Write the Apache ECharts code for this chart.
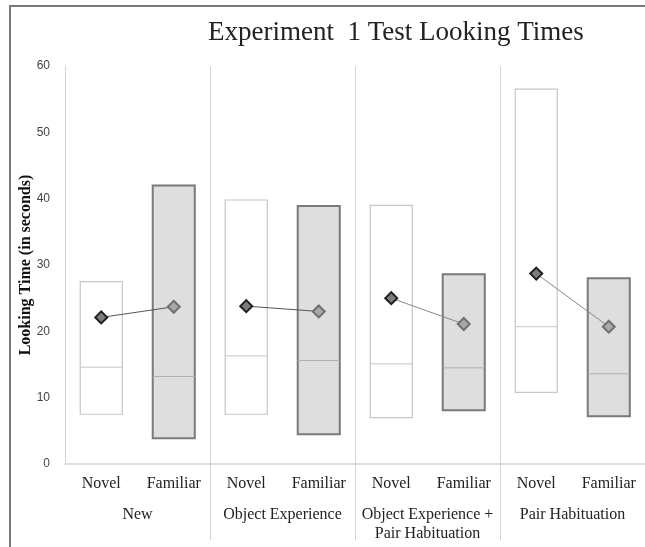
<!DOCTYPE html>
<html>
<head>
<meta charset="utf-8">
<script src="https://cdn.jsdelivr.net/npm/echarts@6/dist/echarts.min.js"></script>
<style>
  html, body { margin: 0; padding: 0; background: #fff; }
  #chart { width: 645px; height: 547px; }
</style>
</head>
<body>
<div id="chart"></div>
<script>
// 데이터
const categories = ["Novel", "Familiar", "Novel", "Familiar", "Novel", "Familiar", "Novel", "Familiar"];
const groups = ["New", "Object Experience", "Object Experience +\nPair Habituation", "Pair Habituation"];
const lows = [7.5, 3.9, 7.5, 4.5, 7.0, 8.1, 10.8, 7.2];
const medians = [14.6, 13.2, 16.3, 15.6, 15.1, 14.5, 20.7, 13.6];
const highs = [27.5, 42.0, 39.8, 38.9, 39.0, 28.6, 56.5, 28.0];
const means = [22.1, 23.7, 23.8, 23.0, 25.0, 21.1, 28.7, 20.7];
const lineColors = ["#555", "#555", "#888", "#888"];

const myChart = echarts.init(document.getElementById("chart"));

const serif = "Liberation Serif";
const gridLine = "#d4d4d4";

// 박스 (min ~ max, median)
const boxSeries = {
  type: "custom",
  xAxisIndex: 0,
  z: 2,
  data: categories.map((c, i) => [i, lows[i], medians[i], highs[i]]),
  encode: { x: 0, y: [1, 2, 3] },
  renderItem: function (params, api) {
    const idx = api.value(0);
    const top = api.coord([idx, api.value(3)]);
    const bot = api.coord([idx, api.value(1)]);
    const med = api.coord([idx, api.value(2)]);
    const w = api.size([1, 0])[0] * 0.58;
    const fam = idx % 2 === 1;
    return {
      type: "group",
      children: [
        {
          type: "rect",
          shape: { x: top[0] - w / 2, y: top[1], width: w, height: bot[1] - top[1] },
          style: { fill: fam ? "#dedede" : "#fff", stroke: fam ? "#7a7a7a" : "#c6c6c6", lineWidth: fam ? 2 : 1.2 },
        },
        {
          type: "line",
          shape: { x1: top[0] - w / 2, y1: med[1], x2: top[0] + w / 2, y2: med[1] },
          style: { stroke: fam ? "#b0b0b0" : "#c6c6c6", lineWidth: 1 },
        },
      ],
    };
  },
};

// 평균 (다이아몬드 + 연결선)
const meanSeries = groups.map((g, gi) => ({
  type: "line",
  xAxisIndex: 0,
  z: 5,
  symbol: "diamond",
  symbolSize: 12,
  lineStyle: { color: lineColors[gi], width: 1 },
  data: means.map((v, i) => {
    if (Math.floor(i / 2) !== gi) return "-";
    const fam = i % 2 === 1;
    return {
      value: v,
      itemStyle: {
        color: fam ? "#a8a8a8" : "#7c7c7c",
        borderColor: fam ? "#707070" : "#1e1e1e",
        borderWidth: 2,
      },
    };
  }),
}));

const option = {
  animation: false,
  title: {
    text: "Experiment  1 Test Looking Times",
    left: 203,
    top: 14,
    textStyle: { fontFamily: serif, fontSize: 27, fontWeight: "normal", color: "#222" },
  },
  graphic: [
    {
      type: "rect",
      shape: { x: 10, y: 6, width: 700, height: 600 },
      style: { fill: "none", stroke: "#7a7a7a", lineWidth: 2 },
      silent: true,
    },
  ],
  grid: { left: 65, right: -5, top: 66, bottom: 83 },
  xAxis: [
    {
      type: "category",
      data: categories,
      position: "bottom",
      axisLine: { lineStyle: { color: gridLine, width: 1.5 } },
      axisTick: { show: false },
      axisLabel: { interval: 0, margin: 12, fontFamily: serif, fontSize: 16, color: "#222" },
    },
    {
      type: "category",
      data: groups,
      position: "bottom",
      axisLine: { show: false },
      axisTick: { show: true, length: 76, interval: (i) => i > 0, lineStyle: { color: gridLine } },
      splitLine: { show: true, interval: 0, lineStyle: { color: gridLine } },
      axisLabel: { interval: 0, margin: 41, fontFamily: serif, fontSize: 16, lineHeight: 19, color: "#222" },
    },
  ],
  yAxis: {
    type: "value",
    min: 0,
    max: 60,
    interval: 10,
    name: "Looking Time (in seconds)",
    nameLocation: "middle",
    nameGap: 31,
    nameMoveOverlap: false,
    nameTextStyle: { fontFamily: serif, fontSize: 16, fontWeight: "bold", color: "#111" },
    axisLine: { show: true, lineStyle: { color: gridLine } },
    axisTick: { show: false },
    splitLine: { show: false },
    axisLabel: { margin: 15, fontFamily: "Liberation Sans", fontSize: 12, color: "#444" },
  },
  series: [boxSeries].concat(meanSeries),
};
myChart.setOption(option);
</script>
</body>
</html>
